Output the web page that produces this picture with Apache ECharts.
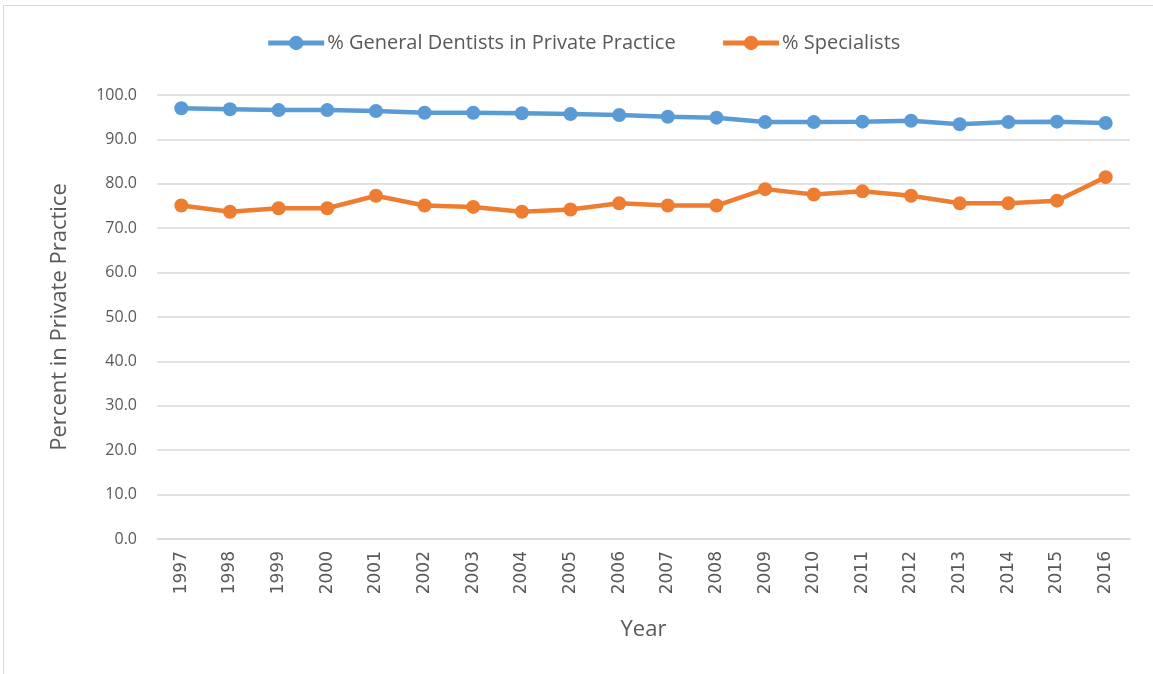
<!DOCTYPE html>
<html>
<head>
<meta charset="utf-8">
<script src="https://cdn.jsdelivr.net/npm/echarts@6/dist/echarts.min.js"></script>
<style>
  html, body { margin: 0; padding: 0; background: #fff; }
  #chart { position: absolute; left: 3px; top: 5px; width: 1160px; height: 680px;
           border: 1px solid #d9d9d9; box-sizing: border-box; }
</style>
</head>
<body>
<div id="chart"></div>
<script>
const years = ["1997","1998","1999","2000","2001","2002","2003","2004","2005","2006",
  "2007","2008","2009","2010","2011","2012","2013","2014","2015","2016"];
const generalDentists = [97.0, 96.8, 96.6, 96.6, 96.4, 96.0, 96.0, 95.9, 95.7, 95.5,
  95.1, 94.9, 93.9, 93.9, 94.0, 94.2, 93.4, 93.9, 94.0, 93.7];
const specialists = [75.1, 73.7, 74.5, 74.5, 77.3, 75.1, 74.8, 73.7, 74.2, 75.6,
  75.1, 75.1, 78.8, 77.6, 78.3, 77.3, 75.6, 75.6, 76.2, 81.5];

const textColor = "#595959";
const fontFamily = "'Open Sans', 'Liberation Sans', sans-serif";

const chart = echarts.init(document.getElementById("chart"));
chart.setOption({
  animation: false,
  textStyle: { fontFamily: fontFamily },
  legend: {
    top: 22,
    left: "center",
    itemWidth: 56,
    itemHeight: 18,
    itemGap: 45,
    lineStyle: { width: 5 },
    textStyle: { color: textColor, fontSize: 20, fontFamily: fontFamily, padding: [0, 0, 0, -2] }
  },
  // plot area in page px: x 157..1130, y 95..539
  grid: { left: 153, right: 32, top: 89, bottom: 145 },
  xAxis: {
    type: "category",
    data: years,
    boundaryGap: true,
    name: "Year",
    nameLocation: "middle",
    nameGap: 80,
    nameTextStyle: { color: textColor, fontSize: 22, fontFamily: fontFamily },
    axisLine: { lineStyle: { color: "#d9d9d9", width: 1.5 } },
    axisTick: { show: false },
    axisLabel: { rotate: 90, color: textColor, fontSize: 17, margin: 12,
                 fontFamily: "'DejaVu Sans', sans-serif" }
  },
  yAxis: {
    type: "value",
    min: 0,
    max: 100,
    interval: 10,
    name: "Percent in Private Practice",
    nameLocation: "middle",
    nameGap: 86,
    nameTextStyle: { color: textColor, fontSize: 22, fontFamily: fontFamily },
    axisLine: { show: false },
    axisTick: { show: false },
    axisLabel: { color: textColor, fontSize: 16, margin: 20,
                 formatter: (v) => v.toFixed(1) },
    splitLine: { lineStyle: { color: "#d9d9d9", width: 1.5 } }
  },
  series: [
    {
      name: "% General Dentists in Private Practice",
      type: "line",
      data: generalDentists,
      symbol: "circle",
      symbolSize: 14,
      color: "#5B9BD5",
      lineStyle: { width: 4.5, color: "#5B9BD5" },
      itemStyle: { color: "#5B9BD5" }
    },
    {
      name: "% Specialists",
      type: "line",
      data: specialists,
      symbol: "circle",
      symbolSize: 14,
      color: "#ED7D31",
      lineStyle: { width: 4.5, color: "#ED7D31" },
      itemStyle: { color: "#ED7D31" }
    }
  ]
});
</script>
</body>
</html>
